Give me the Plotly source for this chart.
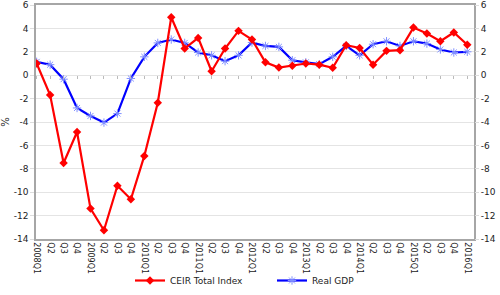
import plotly.graph_objects as go

quarters = ["2008Q1", "Q2", "Q3", "Q4",
            "2009Q1", "Q2", "Q3", "Q4",
            "2010Q1", "Q2", "Q3", "Q4",
            "2011Q1", "Q2", "Q3", "Q4",
            "2012Q1", "Q2", "Q3", "Q4",
            "2013Q1", "Q2", "Q3", "Q4",
            "2014Q1", "Q2", "Q3", "Q4",
            "2015Q1", "Q2", "Q3", "Q4",
            "2016Q1"]

ceir_total_index = [1.0, -1.7, -7.5, -4.85,
                    -11.4, -13.25, -9.45, -10.6,
                    -6.9, -2.35, 4.95, 2.28,
                    3.19, 0.34, 2.28, 3.79,
                    3.05, 1.1, 0.65, 0.8,
                    1.0, 0.9, 0.63, 2.56,
                    2.33, 0.9, 2.08, 2.14,
                    4.07, 3.56, 2.9, 3.65,
                    2.6]

real_gdp = [1.14, 0.9, -0.34, -2.8,
            -3.48, -4.05, -3.28, -0.28,
            1.57, 2.76, 3.05, 2.76,
            1.94, 1.7, 1.2, 1.7,
            2.79, 2.5, 2.42, 1.28,
            1.1, 0.94, 1.57, 2.5,
            1.7, 2.65, 2.9, 2.5,
            2.9, 2.7, 2.2, 1.94,
            2.0]

y_ticks = list(range(-14, 7, 2))
idx = list(range(len(quarters)))

FONT = "DejaVu Sans"
fig = go.Figure()

fig.add_trace(go.Scatter(
    x=idx, y=ceir_total_index, name="CEIR Total Index", yaxis="y2",
    mode="lines+markers",
    line=dict(color="#FF0000", width=2.2),
    marker=dict(symbol="diamond", size=6.5, color="#FF0000"),
))
fig.add_trace(go.Scatter(
    x=idx, y=real_gdp, name="Real GDP",
    mode="lines+markers",
    line=dict(color="#0000FF", width=2.2),
    marker=dict(symbol="asterisk-open", size=7, color="#8090FF",
                line=dict(color="#8090FF", width=1)),
))
# invisible helper for the tick marks drawn along the zero line
fig.add_trace(go.Scatter(x=[0], y=[None], xaxis="x2", showlegend=False,
                         hoverinfo="skip", mode="lines"))

xr = [-0.05, 32.5]
yr = [-14, 6]
fig.update_layout(
    width=500, height=295,
    margin=dict(l=36, r=26, t=5, b=56, autoexpand=False),
    paper_bgcolor="white", plot_bgcolor="white",
    font=dict(family=FONT, color="#222222", size=9),
    showlegend=True,
    legend=dict(orientation="h", xref="container", yref="container",
                x=0.26, xanchor="left", y=-0.025, yanchor="bottom",
                font=dict(size=9, family=FONT), entrywidth=97, entrywidthmode="pixels",
                bgcolor="rgba(0,0,0,0)", borderwidth=0, tracegroupgap=0),
    xaxis=dict(range=xr, tickmode="array", tickvals=idx, ticktext=quarters,
               tickangle=90, tickfont=dict(size=8, family=FONT),
               showgrid=False, zeroline=False, showline=True, linecolor="#A6A6A6",
               linewidth=1.5, mirror=True, ticks="", ticklen=0),
    xaxis2=dict(range=xr, overlaying="x", anchor="free", position=0.7,
                tickmode="array", tickvals=idx, showticklabels=False,
                ticks="outside", ticklen=3, tickcolor="#BBBBBB", tickwidth=1,
                showgrid=False, zeroline=False, showline=False),
    yaxis=dict(range=yr, tickmode="array", tickvals=y_ticks, ticktext=[str(v) for v in y_ticks],
               showgrid=True, gridcolor="#E4E4E4", gridwidth=1, zeroline=False,
               showline=True, linecolor="#A6A6A6", linewidth=1.5, mirror=True,
               ticks="outside", ticklen=4, tickcolor="#DDDDDD",
               tickfont=dict(size=9, family=FONT),
               title=dict(text="%", font=dict(size=10, family=FONT), standoff=4)),
    yaxis2=dict(range=yr, overlaying="y", side="right", tickmode="array", tickvals=y_ticks,
                ticktext=[str(v) for v in y_ticks], showgrid=False, zeroline=False,
                showline=False, ticks="outside", ticklen=4, tickcolor="#DDDDDD",
                tickfont=dict(size=9, family=FONT)),
)

fig.write_html("out.html")
